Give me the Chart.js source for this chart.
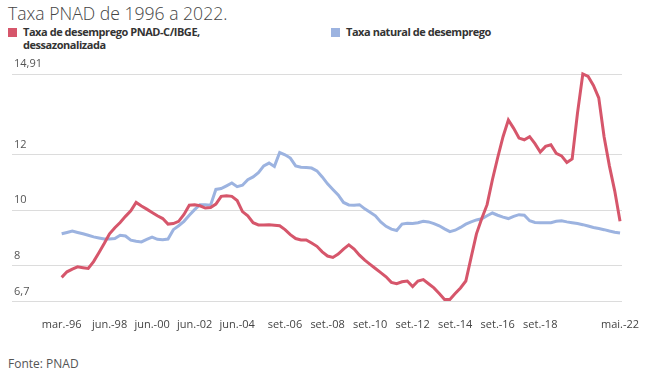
<!DOCTYPE html>
<html>
<head>
<meta charset="utf-8">
<script src="https://cdn.jsdelivr.net/npm/chart.js@4"></script>
<style>
  body { margin: 0; background: #fff; font-family: 'Open Sans', sans-serif; }
  .wrap { position: relative; width: 671px; height: 380px; }
  .title { position: absolute; left: 8px; top: 1px; font-size: 17.6px; font-weight: 300; color: #444; }
  .leg { position: absolute; top: 25px; font-size: 11px; font-weight: 700; color: #333; line-height: 13px; letter-spacing: -0.45px; }
  .leg i { position: absolute; left: 0; top: 3px; width: 9px; height: 9px; }
  .leg span { display: block; padding-left: 15px; }
  .src { position: absolute; left: 8px; top: 355px; font-size: 12px; color: #555; }
  canvas { position: absolute; left: 0; top: 0; }
</style>
</head>
<body>
<div class="wrap">
  <div class="title">Taxa PNAD de 1996 a 2022.</div>
  <div class="leg" style="left:8px"><i style="background:#d6566b"></i><span>Taxa de desemprego PNAD-C/IBGE,<br>dessazonalizada</span></div>
  <div class="leg" style="left:331px"><i style="background:#9cb3e0"></i><span>Taxa natural de desemprego</span></div>
  <div class="src">Fonte: PNAD</div>
  <canvas id="c" width="671" height="380"></canvas>
</div>
<script>
// trimestres de mar.-96 até mai.-22
const months = ['mar.', 'jun.', 'set.', 'dez.']
const categories = []
for (let i = 0; i < 106; i++) {
  categories.push(months[i % 4] + '-' + String((96 + Math.floor(i / 4)) % 100).padStart(2, '0'))
}
categories[105] = 'mai.-22'

const tickLabels = ['mar.-96', 'jun.-98', 'jun.-00', 'jun.-02', 'jun.-04', 'set.-06', 'set.-08', 'set.-10', 'set.-12', 'set.-14', 'set.-16', 'set.-18', 'mai.-22']
const yTicks = [6.7, 8, 10, 12, 14.91]

const desemprego = [
  7.58, 7.78, 7.88, 7.96, 7.93, 7.90, 8.15, 8.47, 8.80, 9.15,
  9.37, 9.56, 9.78, 9.98, 10.28, 10.15, 10.04, 9.92, 9.80, 9.70,
  9.50, 9.52, 9.60, 9.85, 10.18, 10.20, 10.16, 10.08, 10.10, 10.22,
  10.50, 10.52, 10.50, 10.35, 9.95, 9.80, 9.55, 9.47, 9.47, 9.48,
  9.46, 9.44, 9.30, 9.12, 8.98, 8.93, 8.93, 8.82, 8.70, 8.50,
  8.35, 8.30, 8.42, 8.60, 8.75, 8.60, 8.38, 8.20, 8.05, 7.90,
  7.75, 7.60, 7.40, 7.35, 7.42, 7.45, 7.25, 7.45, 7.50, 7.35,
  7.20, 7.00, 6.78, 6.78, 7.00, 7.20, 7.45, 8.30, 9.15, 9.70,
  10.20, 11.10, 11.90, 12.65, 13.25, 12.95, 12.60, 12.54, 12.65, 12.40,
  12.10, 12.30, 12.36, 12.05, 11.96, 11.72, 11.85, 13.50, 14.91, 14.82,
  14.50, 14.05, 12.65, 11.60, 10.70, 9.60
]
const taxaNatural = [
  9.15, 9.20, 9.25, 9.20, 9.15, 9.10, 9.04, 9.00, 8.96, 8.96,
  8.98, 9.10, 9.07, 8.92, 8.88, 8.86, 8.95, 9.03, 8.95, 8.94,
  8.96, 9.30, 9.44, 9.60, 9.82, 10.02, 10.20, 10.20, 10.18, 10.75,
  10.78, 10.88, 10.98, 10.85, 10.90, 11.10, 11.20, 11.35, 11.60, 11.70,
  11.58, 12.08, 12.00, 11.88, 11.60, 11.55, 11.54, 11.52, 11.42, 11.20,
  10.95, 10.75, 10.55, 10.28, 10.19, 10.18, 10.20, 10.05, 9.93, 9.80,
  9.58, 9.42, 9.32, 9.27, 9.50, 9.53, 9.52, 9.55, 9.60, 9.58,
  9.52, 9.44, 9.33, 9.23, 9.28, 9.38, 9.50, 9.58, 9.65, 9.69,
  9.80, 9.90, 9.82, 9.75, 9.70, 9.78, 9.84, 9.82, 9.62, 9.56,
  9.55, 9.55, 9.55, 9.60, 9.62, 9.58, 9.55, 9.52, 9.48, 9.43,
  9.38, 9.34, 9.30, 9.25, 9.21, 9.18
]

const toPoints = arr => arr.map((v, i) => ({ x: i, y: v }))
const fmt = v => String(v).replace('.', ',')

new Chart(document.getElementById('c'), {
  type: 'line',
  data: {
    datasets: [
      {
        label: 'Taxa de desemprego PNAD-C/IBGE, dessazonalizada',
        data: toPoints(desemprego),
        borderColor: '#d6566b',
        borderWidth: 3,
        pointRadius: 0,
        tension: 0,
        clip: false
      },
      {
        label: 'Taxa natural de desemprego',
        data: toPoints(taxaNatural),
        borderColor: '#9cb3e0',
        borderWidth: 3,
        pointRadius: 0,
        tension: 0,
        clip: false
      }
    ]
  },
  options: {
    responsive: false,
    animation: false,
    layout: { padding: { left: 8, right: 49, top: 74, bottom: 41 } },
    plugins: { legend: { display: false }, tooltip: { enabled: false } },
    scales: {
      x: {
        type: 'linear',
        min: -9.34,
        max: 105.37,
        grid: { display: false },
        border: { display: false },
        afterBuildTicks: scale => {
          scale.ticks = tickLabels.map(l => ({ value: categories.indexOf(l) }))
        },
        ticks: {
          autoSkip: false,
          maxRotation: 0,
          padding: 8,
          color: '#444',
          font: { family: 'Open Sans', size: 11 },
          callback: v => categories[v]
        }
      },
      y: {
        min: 6.7,
        max: 14.91,
        grid: { color: '#dcdcdc', drawTicks: false, lineWidth: 1 },
        border: { display: false },
        afterBuildTicks: scale => {
          scale.ticks = yTicks.map(v => ({ value: v }))
        },
        ticks: {
          mirror: true,
          padding: 2,
          labelOffset: -10,
          color: '#555',
          font: { family: 'Open Sans', size: 11 },
          callback: v => fmt(v)
        }
      }
    }
  }
})
</script>
</body>
</html>
